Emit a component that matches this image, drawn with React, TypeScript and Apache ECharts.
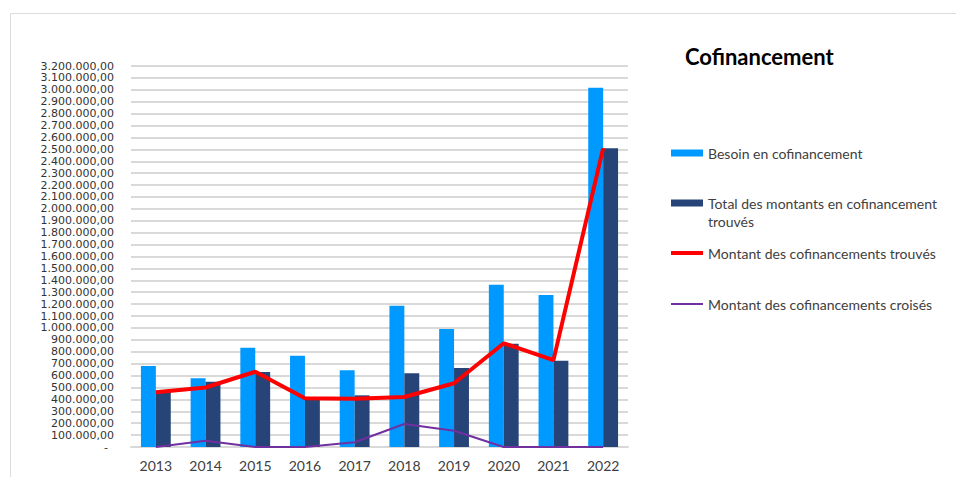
import React, { useEffect, useRef } from "react";
import * as echarts from "echarts";

const years = ["2013", "2014", "2015", "2016", "2017", "2018", "2019", "2020", "2021", "2022"];
const besoin = [680000, 577000, 834000, 767000, 644000, 1187000, 991000, 1363000, 1277000, 3018000];
const totalTrouves = [465000, 549000, 630000, 410000, 434000, 619000, 663000, 868000, 725000, 2509000];
const montantTrouves = [460000, 500000, 632000, 410000, 405000, 420000, 535000, 871000, 730000, 2510000];
const montantCroises = [0, 53000, 0, 0, 40000, 193000, 137000, 0, 0, 0];

const names = [
  "Besoin en cofinancement",
  "Total des montants en cofinancement trouvés",
  "Montant des cofinancements trouvés",
  "Montant des cofinancements croisés",
];

function fmt(v: number): string {
  if (v === 0) return "{dash|-}";
  const s = Math.round(v).toString().replace(/\B(?=(\d{3})+(?!\d))/g, ".");
  return s + ",00";
}

export default function App() {
  const ref = useRef<HTMLDivElement>(null);
  useEffect(() => {
    if (!ref.current) return;
    const chart = echarts.init(ref.current, undefined, { renderer: "svg" });
    const legendText = { fontFamily: "Lato", fontSize: 14, color: "#404040" };
    const legendBase = {
      orient: "vertical" as const,
      left: 671,
      padding: 0,
      itemWidth: 32,
      itemHeight: 7,
      selectedMode: false,
      textStyle: legendText,
    };
    chart.setOption({
      animation: false,
      backgroundColor: "#ffffff",
      title: {
        text: "Cofinancement",
        left: 680,
        top: 40,
        textStyle: { fontFamily: "Lato", fontWeight: "bold", fontSize: 22, color: "#000" },
      },
      legend: [
        { ...legendBase, top: 146, data: [{ name: names[0], icon: "rect" }] },
        {
          ...legendBase,
          top: 196,
          data: [{ name: names[1], icon: "rect" }],
          formatter: () => "Total des montants en cofinancement",
        },
        { ...legendBase, itemHeight: 4, top: 246, data: [{ name: names[2], icon: "rect" }] },
        { ...legendBase, itemHeight: 2, top: 297, data: [{ name: names[3], icon: "rect" }] },
      ],
      graphic: [
        {
          type: "rect",
          shape: { x: 10.5, y: 13.5, width: 2000, height: 2000 },
          style: { fill: "none", stroke: "#dcdcdc", lineWidth: 1 },
          silent: true,
        },
        {
          type: "text",
          left: 708,
          top: 214,
          style: { text: "trouvés", fontFamily: "Lato", fontSize: 14, fill: "#404040" },
          silent: true,
        },
      ],
      grid: { left: 131, right: 328, top: 66, bottom: 30, containLabel: false },
      xAxis: {
        type: "category",
        data: years,
        axisTick: { show: false },
        axisLine: { lineStyle: { color: "#d9d9d9", width: 2 } },
        axisLabel: { fontFamily: "Lato", fontSize: 14, color: "#404040", margin: 11 },
      },
      yAxis: {
        type: "value",
        min: 0,
        max: 3200000,
        interval: 100000,
        axisLine: { show: false },
        axisTick: { show: false },
        splitLine: { lineStyle: { color: "#d9d9d9", width: 2 } },
        axisLabel: {
          fontFamily: "DejaVu Sans",
          fontSize: 11,
          lineHeight: 11,
          color: "#333",
          margin: 17,
          formatter: (v: number) => fmt(v),
          rich: {
            dash: { fontFamily: "DejaVu Sans", fontSize: 11, lineHeight: 11, color: "#333", padding: [0, 6, 0, 0] },
          },
        },
      },
      series: [
        {
          name: names[0],
          type: "bar",
          data: besoin,
          barGap: "0%",
          barCategoryGap: "40%",
          itemStyle: { color: "#0099FF" },
        },
        {
          name: names[1],
          type: "bar",
          data: totalTrouves,
          barGap: "0%",
          barCategoryGap: "40%",
          itemStyle: { color: "#264478" },
        },
        {
          name: names[2],
          type: "line",
          data: montantTrouves,
          symbol: "none",
          lineStyle: { color: "#FF0000", width: 4 },
          itemStyle: { color: "#FF0000" },
        },
        {
          name: names[3],
          type: "line",
          data: montantCroises,
          symbol: "none",
          lineStyle: { color: "#7030A0", width: 2 },
          itemStyle: { color: "#7030A0" },
        },
      ],
    });
    return () => chart.dispose();
  }, []);
  return (
    <div
      ref={ref}
      style={{ position: "absolute", left: 0, top: 0, width: 956, height: 477 }}
    />
  );
}
